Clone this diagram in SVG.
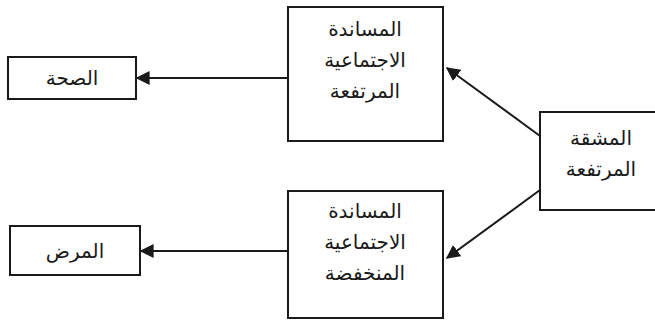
<svg xmlns="http://www.w3.org/2000/svg" width="655" height="321" viewBox="0 0 655 321">
<style>
.box{fill:#fff;stroke:#1a1a1a;stroke-width:2}
.t{font-family:"DejaVu Sans","Noto Sans",sans-serif;font-size:20px;fill:#1a1a1a;text-anchor:middle;direction:rtl}
.c{stroke:#1a1a1a;stroke-width:2;fill:none;marker-end:url(#ah)}
</style>
<defs>
<marker id="ah" viewBox="0 0 10 10" refX="9" refY="5" markerWidth="7" markerHeight="7" markerUnits="strokeWidth" orient="auto">
<path d="M0,0 L10,5 L0,10 z" fill="#1a1a1a"/>
</marker>
</defs>
<g id="n-health"><rect class="box" x="8" y="57" width="128" height="42"/><text class="t" x="72" y="85">الصحة</text></g>
<g id="n-illness"><rect class="box" x="10" y="226" width="130" height="49"/><text class="t" x="75" y="258">المرض</text></g>
<g id="n-high-support"><rect class="box" x="288" y="7" width="155" height="134"/><text class="t" x="365" y="36">المساندة</text><text class="t" x="365" y="67">الاجتماعية</text><text class="t" x="365" y="98">المرتفعة</text></g>
<g id="n-low-support"><rect class="box" x="288" y="191" width="155" height="127"/><text class="t" x="365" y="218">المساندة</text><text class="t" x="365" y="249">الاجتماعية</text><text class="t" x="365" y="280">المنخفضة</text></g>
<g id="n-strain"><rect class="box" x="540" y="112" width="125" height="98"/><text class="t" x="601" y="145">المشقة</text><text class="t" x="601" y="176">المرتفعة</text></g>
<g id="connectors">
<line class="c" x1="288" y1="78" x2="137" y2="78"/>
<line class="c" x1="288" y1="251" x2="141" y2="251"/>
<line class="c" x1="540" y1="136" x2="447" y2="68"/>
<line class="c" x1="540" y1="190" x2="447" y2="258"/>
</g>
</svg>
